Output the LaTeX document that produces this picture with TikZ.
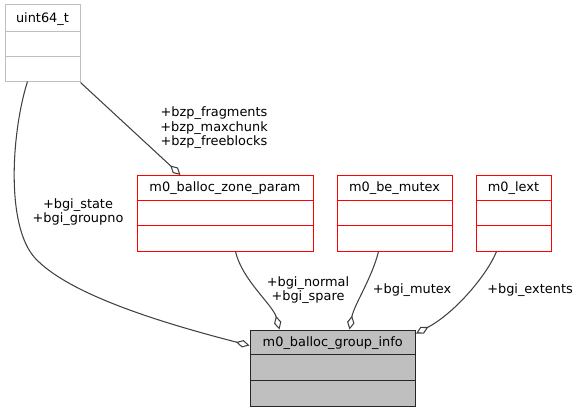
\documentclass[tikz,border=0pt]{standalone}
\usepackage{fontspec}
\setmainfont{DejaVu Sans}
\usetikzlibrary{arrows.meta,calc}
\definecolor{edgecol}{HTML}{404040}
\definecolor{boxgray}{HTML}{BFBFBF}
\definecolor{redbox}{HTML}{FF0000}
\begin{document}
\begin{tikzpicture}[x=1pt,y=-1pt,
  font=\fontsize{12.9}{14.5}\selectfont,
  cls/.style={draw, inner sep=0pt, line width=1pt, minimum height=75.5pt},
  redcls/.style={cls, draw=redbox},
  graycls/.style={cls, draw=boxgray},
  maincls/.style={cls, draw=black!85, fill=boxgray},
  title/.style={anchor=base, inner sep=0pt},
  lbl/.style={align=center, inner sep=0pt},
  conn/.style={draw=edgecol, line width=1.05pt,
    -{Diamond[open, length=14pt, width=7.5pt, line width=1.05pt, fill=white]}}]
\useasboundingbox (0,0) rectangle (580,412);

% class boxes
\node[graycls, minimum width=75pt, minimum height=76pt] (ut) at (42.5,43) {};
\node[redcls, minimum width=176pt] (zp) at (225,213.25) {};
\node[redcls, minimum width=115pt] (bm) at (394.5,213.25) {};
\node[redcls, minimum width=75pt] (lx) at (513.5,213.25) {};
\node[maincls, minimum width=165.5pt, minimum height=76pt] (gi) at (332.75,368) {};

% row separators
\draw[boxgray, line width=1pt] ($(ut.north west)+(0,27)$) -- ($(ut.north east)+(0,27)$);
\draw[boxgray, line width=1pt] ($(ut.north west)+(0,52)$) -- ($(ut.north east)+(0,52)$);
\foreach \n in {zp,bm,lx}{
  \draw[redbox, line width=1pt] ($(\n.north west)+(0,25)$) -- ($(\n.north east)+(0,25)$);
  \draw[redbox, line width=1pt] ($(\n.north west)+(0,50.5)$) -- ($(\n.north east)+(0,50.5)$);
}
\draw[black!85, line width=1pt] ($(gi.north west)+(0,25)$) -- ($(gi.north east)+(0,25)$);
\draw[black!85, line width=1pt] ($(gi.north west)+(0,51)$) -- ($(gi.north east)+(0,51)$);

% titles
\node[title] (tut) at ($(ut.north)+(0,18)$) {uint64\_t};
\node[title] (tzp) at ($(zp.north)+(0,16.5)$) {m0\_balloc\_zone\_param};
\node[title] (tbm) at ($(bm.north)+(0,16.5)$) {m0\_be\_mutex};
\node[title] (tlx) at ($(lx.north)+(0,16.5)$) {m0\_lext};
\node[title] (tgi) at ($(gi.north)+(0,17)$) {m0\_balloc\_group\_info};

% connectors
\draw[conn] ($(ut.south west)+(23,0)$) .. controls (12,130) and (5,225) .. (35,258)
  .. controls (70,296) and (170,325) .. ($(gi.north west)+(0,16)$);
\draw[conn] ($(ut.south east)+(0,1)$) -- ($(zp.north west)+(44,0)$);
\draw[conn] ($(zp.south west)+(99,0)$) .. controls (242,280) and (273,305) .. ($(gi.north west)+(30,0)$);
\draw[conn] ($(bm.south west)+(42,0)$) .. controls (372,278) and (354,305) .. ($(gi.north west)+(100,0)$);
\draw[conn] ($(lx.south west)+(21,0)$) .. controls (487,275) and (455,313) .. ($(gi.north east)+(0,4)$);

% labels
\node[lbl] (l1) at (214,128) {+bzp\_fragments\\+bzp\_maxchunk\\+bzp\_freeblocks};
\node[lbl] (l2) at (78,212) {+bgi\_state\\+bgi\_groupno};
\node[lbl] (l3) at (308,290) {+bgi\_normal\\+bgi\_spare};
\node[lbl] (l4) at (412,290) {+bgi\_mutex};
\node[lbl] (l5) at (530,290) {+bgi\_extents};
\end{tikzpicture}
\end{document}
